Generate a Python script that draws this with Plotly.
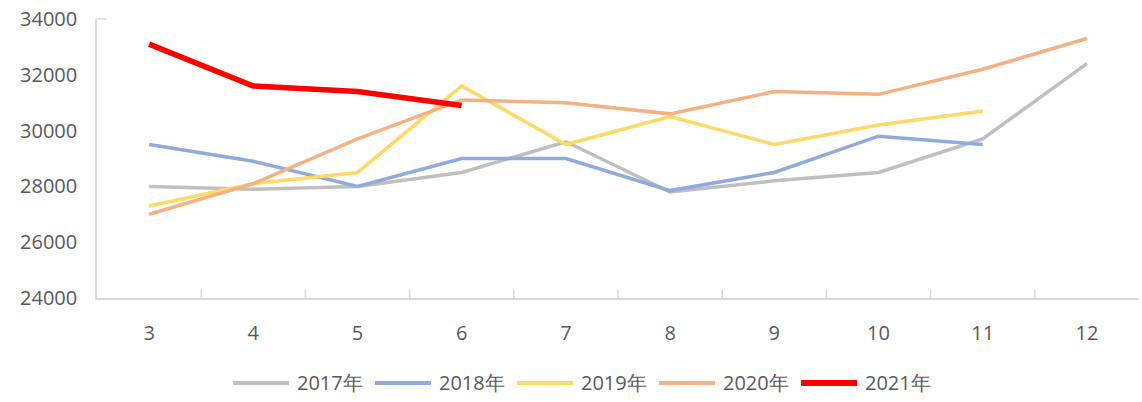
import plotly.graph_objects as go

months = ["3", "4", "5", "6", "7", "8", "9", "10", "11", "12"]
y2017 = [28000, 27900, 28000, 28500, 29600, 27800, 28200, 28500, 29700, 32400]
y2018 = [29500, 28900, 28000, 29000, 29000, 27850, 28500, 29800, 29500]
y2019 = [27300, 28100, 28500, 31600, 29500, 30500, 29500, 30200, 30700]
y2020 = [27000, 28100, 29700, 31100, 31000, 30600, 31400, 31300, 32200, 33300]
y2021 = [33100, 31600, 31400, 30900]

names = ["2017年", "2018年", "2019年", "2020年", "2021年"]
values = [y2017, y2018, y2019, y2020, y2021]
colors = ["#BFBFBF", "#8FAADC", "#FFD966", "#F4B183", "#FF0000"]
widths = [3.5, 3.5, 3.5, 3.5, 5.5]

W, H = 1142, 402
L, R, T, B = 97, 3, 19, 104
pw, ph = W - L - R, H - T - B

fig = go.Figure()
for name, vals, color, w in zip(names, values, colors, widths):
    fig.add_trace(go.Scatter(
        x=months[:len(vals)], y=vals, name=name, mode="lines",
        line=dict(color=color, width=w), showlegend=False,
    ))

font_family = "Open Sans, Liberation Sans, sans-serif"
fig.update_layout(
    width=W, height=H,
    margin=dict(l=L, r=R, t=T, b=B, autoexpand=False),
    plot_bgcolor="white", paper_bgcolor="white",
    font=dict(family=font_family, size=20, color="#595959"),
    showlegend=False,
    xaxis=dict(
        type="category", range=[-0.5, 9.5], automargin=False,
        showline=True, linecolor="#D9D9D9", linewidth=1.5,
        showgrid=False, ticks="", tickfont=dict(size=20),
        ticklabelstandoff=16,
    ),
    yaxis=dict(
        range=[24000, 34000], dtick=2000, tickformat="d", automargin=False,
        showline=True, linecolor="#D9D9D9", linewidth=1.5,
        showgrid=False, ticks="", tickfont=dict(size=20),
        ticklabelstandoff=14, zeroline=False,
    ),
)

# tick marks between categories (inside, pointing up)
for i in range(1, len(months)):
    fig.add_shape(type="line", xref="x", yref="paper", x0=i - 0.5, x1=i - 0.5,
                  y0=0, y1=0.03, line=dict(color="#D9D9D9", width=1.5))
# small stub at top of value axis
fig.add_shape(type="line", xref="paper", yref="paper", x0=0, x1=0.009,
              y0=1, y1=1, line=dict(color="#D9D9D9", width=1.5))

# legend drawn manually (long line samples like the reference)
def px_x(px):
    return (px - L) / pw

def px_y(py):
    return (H - B - py) / ph

leg_y = px_y(383)
for i, (name, color, w) in enumerate(zip(names, colors, widths)):
    x0 = 233 + 142 * i
    fig.add_shape(type="line", xref="paper", yref="paper",
                  x0=px_x(x0), x1=px_x(x0 + 56), y0=leg_y, y1=leg_y,
                  line=dict(color=color, width=w + 0.5))
    fig.add_annotation(xref="paper", yref="paper", x=px_x(x0 + 62), y=leg_y,
                       xanchor="left", yanchor="middle", text=name, showarrow=False,
                       font=dict(size=20, color="#595959", family=font_family))

fig.write_html("out.html", config={"displayModeBar": False},
               post_script="document.body.style.margin='0';")
